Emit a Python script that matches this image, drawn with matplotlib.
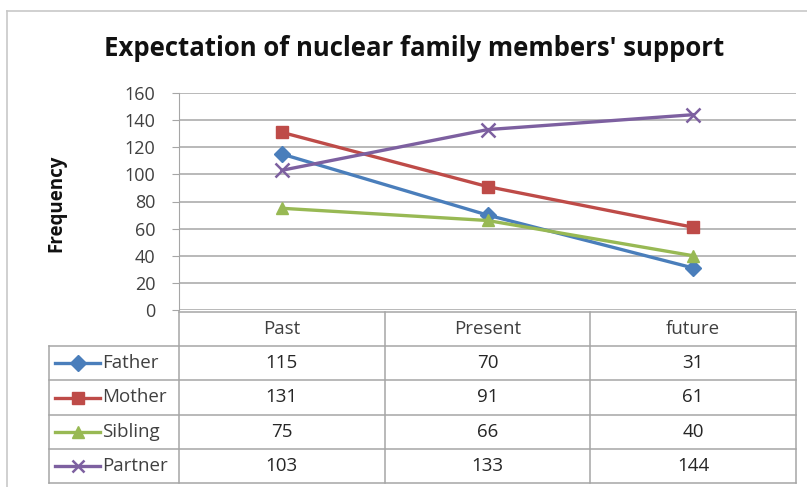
import matplotlib.pyplot as plt
from matplotlib.lines import Line2D

categories = ["Past", "Present", "future"]
father = [115, 70, 31]
mother = [131, 91, 61]
sibling = [75, 66, 40]
partner = [103, 133, 144]

series = [
    ("Father", father, "#4a7ebb", "D"),
    ("Mother", mother, "#be4b48", "s"),
    ("Sibling", sibling, "#98b954", "^"),
    ("Partner", partner, "#7d60a0", "x"),
]

plt.rcParams["font.family"] = ["Open Sans", "DejaVu Sans"]
W, H = 807, 487
fig = plt.figure(figsize=(W / 100, H / 100), dpi=100)

# outer chart border
fig.add_artist(Line2D([7 / W, 7 / W], [0, 1 - 11 / H], color="#c8c8c8", lw=1.2))
fig.add_artist(Line2D([7 / W, 1], [1 - 11 / H, 1 - 11 / H], color="#c8c8c8", lw=1.2))

fig.text(414 / W, 1 - 48 / H, "Expectation of nuclear family members' support",
         ha="center", va="center", fontsize=18.5, fontweight="bold", color="#111111")
fig.text(56 / W, 1 - 203 / H, "Frequency", rotation=90, ha="center", va="center",
         fontsize=13.5, fontweight="bold", color="#111111")

# ---------- plot area ----------
x0, x1 = 179, 796
ax = fig.add_axes([x0 / W, 1 - 310 / H, (x1 - x0) / W, (310 - 93) / H])
xs = range(len(categories))
for name, vals, col, mk in series:
    if mk == "x":
        ax.plot(xs, vals, color=col, lw=2.4, marker=mk, ms=10, mew=1.8, zorder=3)
    else:
        ax.plot(xs, vals, color=col, lw=2.4, marker=mk, ms=8, zorder=3)
ax.set_xlim(-0.5, 2.5)
ax.set_ylim(0, 160)
ax.set_yticks(range(0, 161, 20))
ax.yaxis.grid(True, color="#a6a6a6", lw=1.1)
ax.set_axisbelow(True)
ax.set_xticks([])
for s in ["top", "right", "bottom"]:
    ax.spines[s].set_visible(False)
ax.spines["left"].set_color("#a6a6a6")
ax.tick_params(axis="y", length=5, color="#a6a6a6", labelsize=13,
               labelcolor="#404040", pad=12)

# ---------- data table ----------
t_left, t_top, t_bot = 49, 312, 483
unit = (x1 - x0) / 3.0
xmin = -0.5 - (x0 - t_left) / unit
tax = fig.add_axes([t_left / W, 1 - t_bot / H, (x1 - t_left) / W, (t_bot - t_top) / H])
tax.set_xlim(xmin, 2.5)
nrows = len(series) + 1
tax.set_ylim(nrows, 0)
tax.axis("off")
lc = "#a6a6a6"

# horizontal lines
tax.plot([-0.5, 2.5], [0, 0], color=lc, lw=1.1, clip_on=False)
for r in range(1, nrows + 1):
    tax.plot([xmin, 2.5], [r, r], color=lc, lw=1.1, clip_on=False)
# vertical lines
tax.plot([xmin, xmin], [1, nrows], color=lc, lw=1.1, clip_on=False)
for c in range(len(categories) + 1):
    tax.plot([c - 0.5, c - 0.5], [0, nrows], color=lc, lw=1.1, clip_on=False)

for i, cat in enumerate(categories):
    tax.text(i, 0.5, cat, ha="center", va="center", fontsize=13.5, color="#404040")

for r, (name, vals, col, mk) in enumerate(series, start=1):
    for i, v in enumerate(vals):
        tax.text(i, r + 0.5, str(v), ha="center", va="center", fontsize=13.5,
                 color="#262626")
    lx = [xmin + 0.03, xmin + 0.25]
    tax.plot(lx, [r + 0.5] * 2, color=col, lw=2.4, clip_on=False)
    tax.plot([sum(lx) / 2], [r + 0.5], color=col, marker=mk,
             ms=8 if mk != "x" else 9, mew=1.8 if mk == "x" else 1, clip_on=False)
    tax.text(xmin + 0.26, r + 0.5, name, ha="left", va="center", fontsize=13.5,
             color="#404040")

fig.savefig("out.png", dpi=100)
